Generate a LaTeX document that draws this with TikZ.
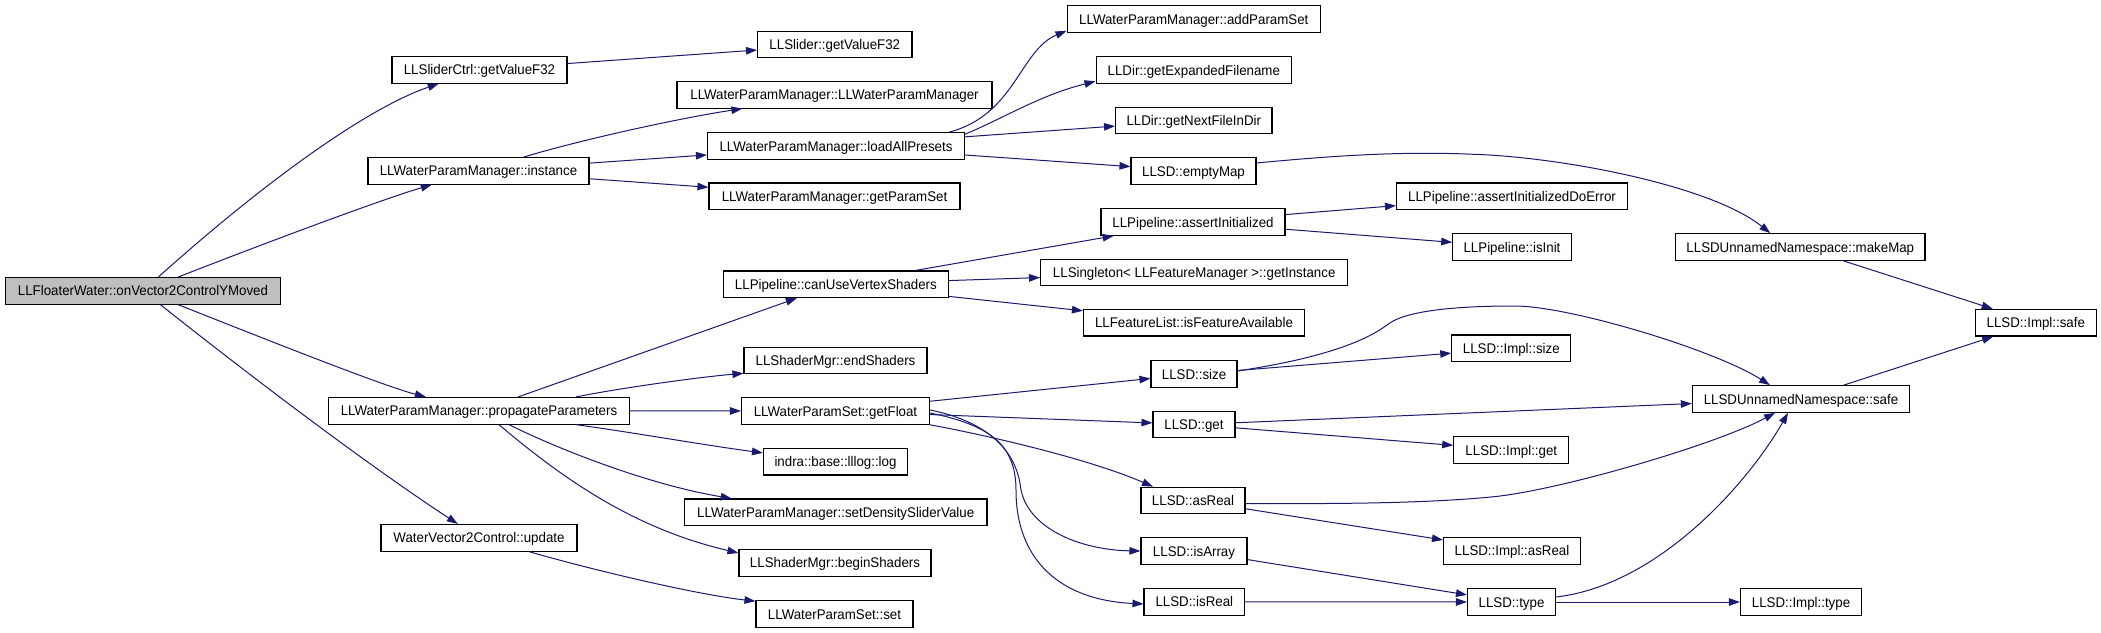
\documentclass[tikz,border=0pt]{standalone}
\usepackage{fontspec}
\usetikzlibrary{arrows.meta}
\newfontfamily\nodefont[FakeStretch=0.95]{Liberation Sans}
\definecolor{edgeblue}{HTML}{191970}
\definecolor{rootgray}{HTML}{BFBFBF}
\begin{document}
\begin{tikzpicture}[x=1pt,y=-1pt,
  fn/.style={draw=black, line width=1.1pt, fill=white, inner sep=0pt,
    minimum height=26.6pt, text height=10pt, text depth=0pt,
    font=\nodefont\fontsize{14pt}{16pt}\selectfont},
  call/.style={draw=edgeblue, line width=1pt, -{Triangle[length=11pt,width=7.5pt]}, fill=none}]
\useasboundingbox (0,0) rectangle (2101,632);
% rank 0
\node[fn, fill=rootgray, minimum width=275pt] (main) at (143,290.8) {LLFloaterWater::onVector2ControlYMoved};
% rank 1
\node[fn, minimum width=175pt] (sc) at (479.5,69.8) {LLSliderCtrl::getValueF32};
\node[fn, minimum width=221pt] (inst) at (478.5,170.8) {LLWaterParamManager::instance};
\node[fn, minimum width=301pt] (prop) at (479,410.8) {LLWaterParamManager::propagateParameters};
\node[fn, minimum width=196pt] (upd) at (479,537.8) {WaterVector2Control::update};
% rank 2
\node[fn, minimum width=154.4pt] (sl) at (834.8,44.5) {LLSlider::getValueF32};
\node[fn, minimum width=315pt] (ctor) at (834.5,94.8) {LLWaterParamManager::LLWaterParamManager};
\node[fn, minimum width=257pt] (load) at (836,146) {LLWaterParamManager::loadAllPresets};
\node[fn, minimum width=251pt] (gps) at (834.5,196.3) {LLWaterParamManager::getParamSet};
\node[fn, minimum width=224.3pt] (cuvs) at (835.9,284.3) {LLPipeline::canUseVertexShaders};
\node[fn, minimum width=183pt] (ends) at (835.5,360.5) {LLShaderMgr::endShaders};
\node[fn, minimum width=188pt] (gf) at (835.5,411) {LLWaterParamSet::getFloat};
\node[fn, minimum width=144pt] (log) at (835.5,461.7) {indra::base::lllog::log};
\node[fn, minimum width=302.6pt] (sdsv) at (835.7,512.3) {LLWaterParamManager::setDensitySliderValue};
\node[fn, minimum width=192pt] (begs) at (835,562.8) {LLShaderMgr::beginShaders};
\node[fn, minimum width=157pt] (set) at (834.5,614) {LLWaterParamSet::set};
% rank 3
\node[fn, minimum width=253.5pt] (aps) at (1193.8,19) {LLWaterParamManager::addParamSet};
\node[fn, minimum width=195.5pt] (gef) at (1193.8,70) {LLDir::getExpandedFilename};
\node[fn, minimum width=156.4pt] (gnf) at (1193.8,120.5) {LLDir::getNextFileInDir};
\node[fn, minimum width=125pt] (em) at (1193.5,171) {LLSD::emptyMap};
\node[fn, minimum width=184pt] (ai) at (1193,222) {LLPipeline::assertInitialized};
\node[fn, minimum width=307.2pt] (gi) at (1194.2,272.5) {LLSingleton< LLFeatureManager >::getInstance};
\node[fn, minimum width=221pt] (ifa) at (1194,322.7) {LLFeatureList::isFeatureAvailable};
\node[fn, minimum width=86pt] (sz) at (1194,374) {LLSD::size};
\node[fn, minimum width=82pt] (get) at (1194,424.5) {LLSD::get};
\node[fn, minimum width=104pt] (ar) at (1193,500.5) {LLSD::asReal};
\node[fn, minimum width=106pt] (iarr) at (1194,551) {LLSD::isArray};
\node[fn, minimum width=100.6pt] (ir) at (1194.3,601.8) {LLSD::isReal};
% rank 4
\node[fn, minimum width=231pt] (aide) at (1512,196.3) {LLPipeline::assertInitializedDoError};
\node[fn, minimum width=118.5pt] (ii) at (1512,247) {LLPipeline::isInit};
\node[fn, minimum width=119pt] (isz) at (1511.3,348.3) {LLSD::Impl::size};
\node[fn, minimum width=115pt] (iget) at (1511.3,450) {LLSD::Impl::get};
\node[fn, minimum width=137pt] (iar) at (1512,550.8) {LLSD::Impl::asReal};
\node[fn, minimum width=88pt] (ty) at (1511.5,602) {LLSD::type};
% rank 5
\node[fn, minimum width=249.4pt] (mm) at (1800.3,247) {LLSDUnnamedNamespace::makeMap};
\node[fn, minimum width=217.2pt] (uns) at (1801,399) {LLSDUnnamedNamespace::safe};
\node[fn, minimum width=121pt] (ity) at (1801,602) {LLSD::Impl::type};
% rank 6
\node[fn, minimum width=120.5pt] (isafe) at (2035.8,322.7) {LLSD::Impl::safe};

% edges from root
\draw[call] (main) .. controls (270,177) and (370,107) .. (sc);
\draw[call] (main) .. controls (260,245) and (380,200) .. (inst);
\draw[call] (main) .. controls (250,333) and (380,385) .. (prop);
\draw[call] (main) .. controls (230,360) and (360,460) .. (upd);
% rank 1 out
\draw[call] (sc) -- (sl);
\draw[call] (inst) .. controls (580,140) and (680,118) .. (ctor);
\draw[call] (inst) -- (load);
\draw[call] (inst) -- (gps);
\draw[call] (prop) -- (cuvs);
\draw[call] ([xshift=97pt]prop.north) .. controls (620,388) and (700,377) .. ([yshift=1pt]ends.south west);
\draw[call] (prop) -- (gf);
\draw[call] ([xshift=97pt]prop.south) .. controls (630,432) and (710,446) .. ([yshift=-5pt]log.north west);
\draw[call] ([xshift=30pt]prop.south) .. controls (560,450) and (650,485) .. ([xshift=-104pt]sdsv.north);
\draw[call] ([xshift=20pt]prop.south) .. controls (570,485) and (640,530) .. ([yshift=-4pt]begs.north west);
\draw[call] ([xshift=50pt]upd.south) .. controls (600,572) and (700,595) .. ([yshift=-1pt]set.north west);
% rank 2 out
\draw[call] ([xshift=-16pt]load.north east) .. controls (1015,115) and (1020,50) .. ([yshift=2pt]aps.south west);
\draw[call] ([yshift=-2pt]load.north east) .. controls (1000,120) and (1040,95) .. ([yshift=2.5pt]gef.south west);
\draw[call] (load) -- (gnf);
\draw[call] (load) -- (em);
\draw[call] (cuvs) -- (ai);
\draw[call] (cuvs) -- (gi);
\draw[call] (cuvs) -- (ifa);
\draw[call] (gf) -- (sz);
\draw[call] (gf) -- (get);
\draw[call] (gf.south east) .. controls (960,430) and (1080,455) .. ([xshift=-40pt]ar.north);
\draw[call] ([yshift=1pt]gf.east) .. controls (980,420) and (1015,445) .. (1020.5,486.7)
   .. controls (1026,528) and (1080,550) .. (iarr.west);
\draw[call] ([yshift=-2pt]gf.east) .. controls (990,425) and (1016,445) .. (1016,490)
   .. controls (1016,560) and (1060,600) .. ([yshift=-16pt]ir.north west);
% rank 3 out
\draw[call] ([yshift=8pt]em.east) .. controls (1330,156) and (1400,151) .. (1473.7,154.3)
   .. controls (1560,157) and (1710,185) .. ([xshift=-30pt]mm.north);
\draw[call] (ai) -- (aide);
\draw[call] (ai) -- (ii);
\draw[call] (sz) -- (isz);
\draw[call] ([yshift=3pt]sz.east) .. controls (1310,360) and (1360,345) .. (1387,325)
   .. controls (1405,310) and (1460,306) .. (1514.6,306)
   .. controls (1570,306) and (1715,350) .. ([xshift=-31pt]uns.north);
\draw[call] (get) -- (uns);
\draw[call] (get) -- (iget);
\draw[call] ([yshift=-3pt]ar.east) .. controls (1350,504) and (1430,503) .. (1494,496.7)
   .. controls (1560,490) and (1715,445) .. ([xshift=-26pt]uns.south);
\draw[call] (ar) -- (iar);
\draw[call] (iarr) -- (ty);
\draw[call] (ir) -- (ty);
% rank 4/5 out
\draw[call] ([yshift=5pt]ty.east) .. controls (1660,585) and (1750,480) .. ([xshift=-13pt]uns.south);
\draw[call] (ty) -- (ity);
\draw[call] (mm) -- (isafe);
\draw[call] (uns) -- (isafe);
\end{tikzpicture}
\end{document}
